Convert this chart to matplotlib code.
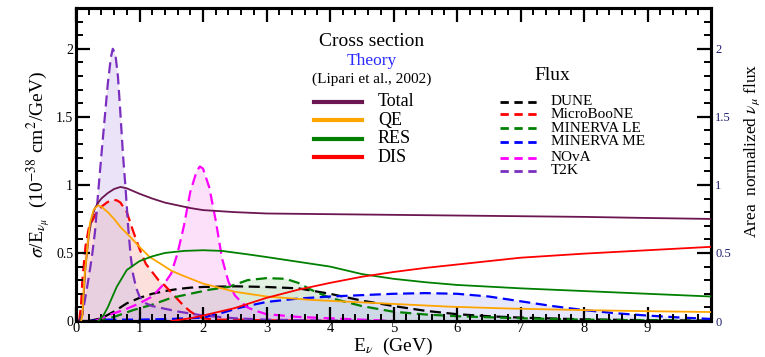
import matplotlib
matplotlib.use("Agg")
import matplotlib.pyplot as plt
from matplotlib.ticker import MultipleLocator
from matplotlib.lines import Line2D

plt.rcParams['font.family'] = ['Liberation Serif', 'DejaVu Serif']
plt.rcParams['mathtext.fontset'] = 'stix'

# ---- cross sections (Lipari et al., 2002), sigma/E in 1e-38 cm^2/GeV ----
e_total = [0.05, 0.1, 0.15, 0.2, 0.25, 0.3, 0.35, 0.4, 0.5, 0.6, 0.7, 0.8, 0.9, 1.0,
           1.2, 1.4, 1.6, 1.8, 2.0, 2.5, 3.0, 4.0, 5.0, 6.0, 7.0, 8.0, 9.0, 10.0]
v_total = [0.0, 0.04, 0.4, 0.62, 0.76, 0.83, 0.87, 0.9, 0.94, 0.97, 0.985, 0.975, 0.955, 0.935,
           0.9, 0.87, 0.85, 0.83, 0.815, 0.8, 0.79, 0.785, 0.78, 0.775, 0.77, 0.765, 0.757, 0.75]

e_qe = [0.08, 0.1, 0.13, 0.17, 0.22, 0.28, 0.35, 0.4, 0.5, 0.6, 0.7, 0.85, 1.0, 1.16, 1.3,
        1.5, 1.7, 2.0, 2.5, 3.0, 3.7, 4.8, 5.9, 6.8, 8.0, 9.0, 10.0]
v_qe = [0.0, 0.04, 0.3, 0.5, 0.72, 0.82, 0.85, 0.84, 0.8, 0.75, 0.69, 0.62, 0.545, 0.47, 0.43,
        0.37, 0.33, 0.275, 0.215, 0.18, 0.155, 0.13, 0.105, 0.092, 0.08, 0.072, 0.066]

e_res = [0.35, 0.43, 0.5, 0.64, 0.8, 1.0, 1.2, 1.4, 1.7, 2.0, 2.3, 2.7, 3.0, 3.5, 4.0, 4.5,
         5.0, 5.5, 6.0, 7.0, 8.0, 9.0, 10.0]
v_res = [0.0, 0.04, 0.1, 0.25, 0.375, 0.44, 0.475, 0.5, 0.515, 0.52, 0.515, 0.49, 0.47, 0.435,
         0.4, 0.345, 0.31, 0.285, 0.265, 0.24, 0.22, 0.2, 0.18]

e_dis = [1.5, 1.8, 2.0, 2.5, 3.0, 3.5, 4.0, 4.5, 5.0, 5.5, 6.0, 7.0, 8.0, 9.0, 10.0]
v_dis = [0.0, 0.02, 0.04, 0.095, 0.17, 0.23, 0.28, 0.325, 0.36, 0.39, 0.415, 0.465, 0.495, 0.52, 0.545]

# ---- area-normalized muon-neutrino fluxes ----
e_dune = [0.2, 0.4, 0.6, 0.8, 1.0, 1.2, 1.4, 1.6, 1.8, 2.0, 2.5, 3.0, 3.5, 4.0, 4.5, 5.0,
          5.5, 6.0, 6.5, 7.0, 8.0, 9.0, 10.0]
v_dune = [0.0, 0.02, 0.07, 0.13, 0.17, 0.2, 0.22, 0.235, 0.245, 0.25, 0.255, 0.25, 0.24, 0.2,
          0.15, 0.11, 0.075, 0.05, 0.035, 0.025, 0.012, 0.006, 0.003]

e_uboone = [0.05, 0.08, 0.1, 0.15, 0.2, 0.3, 0.4, 0.5, 0.6, 0.65, 0.7, 0.8, 0.9, 1.0, 1.1,
            1.2, 1.3, 1.4, 1.5, 1.6, 1.7, 1.8, 1.9, 2.0, 2.2, 2.5, 3.0, 4.0]
v_uboone = [0.0, 0.12, 0.3, 0.55, 0.68, 0.78, 0.84, 0.875, 0.89, 0.885, 0.87, 0.8, 0.66, 0.53,
            0.42, 0.36, 0.3, 0.26, 0.21, 0.16, 0.11, 0.07, 0.04, 0.02, 0.01, 0.01, 0.005, 0.0]

e_le = [0.3, 0.6, 0.9, 1.2, 1.5, 1.8, 2.1, 2.4, 2.7, 3.0, 3.3, 3.5, 3.7, 4.0, 4.5, 5.0, 5.5,
        6.0, 7.0, 8.0, 9.0, 10.0]
v_le = [0.0, 0.03, 0.08, 0.12, 0.17, 0.2, 0.23, 0.25, 0.3, 0.315, 0.31, 0.28, 0.23, 0.17,
        0.11, 0.068, 0.048, 0.035, 0.02, 0.01, 0.005, 0.0]

e_me = [0.2, 0.5, 1.0, 1.5, 2.0, 2.3, 2.6, 3.0, 3.5, 4.0, 4.5, 5.0, 5.5, 6.0, 6.5, 7.0, 7.5,
        8.0, 8.5, 9.0, 9.5, 10.0]
v_me = [0.0, 0.01, 0.01, 0.015, 0.025, 0.06, 0.1, 0.14, 0.165, 0.18, 0.19, 0.2, 0.205, 0.2,
        0.18, 0.145, 0.11, 0.08, 0.057, 0.04, 0.026, 0.015]

e_nova = [0.3, 0.5, 0.8, 1.0, 1.2, 1.4, 1.5, 1.6, 1.7, 1.8, 1.9, 1.95, 2.0, 2.1, 2.2, 2.3,
          2.4, 2.5, 2.6, 2.7, 2.8, 3.0, 3.5, 4.0, 5.0]
v_nova = [0.0, 0.04, 0.09, 0.13, 0.18, 0.28, 0.35, 0.5, 0.7, 0.95, 1.1, 1.135, 1.12, 0.98,
          0.74, 0.46, 0.29, 0.19, 0.14, 0.1, 0.08, 0.05, 0.03, 0.02, 0.0]

e_t2k = [0.05, 0.1, 0.15, 0.2, 0.25, 0.3, 0.35, 0.4, 0.45, 0.5, 0.55, 0.58, 0.62, 0.66, 0.7,
         0.74, 0.78, 0.82, 0.86, 0.9, 0.95, 1.0, 1.1, 1.2, 1.4, 1.6, 1.8, 2.0, 2.5, 3.0, 4.0, 5.0]
v_t2k = [0.0, 0.05, 0.18, 0.32, 0.47, 0.66, 0.95, 1.22, 1.48, 1.74, 1.94, 2.0, 1.96, 1.8, 1.52,
         1.22, 0.98, 0.7, 0.48, 0.34, 0.24, 0.18, 0.13, 0.11, 0.09, 0.07, 0.055, 0.04, 0.02, 0.01,
         0.003, 0.0]

xsec_series = [
    ("Total", e_total, v_total, "#6b1650"),
    ("QE", e_qe, v_qe, "#ffa500"),
    ("RES", e_res, v_res, "#008000"),
    ("DIS", e_dis, v_dis, "#ff0000"),
]
flux_series = [
    ("DUNE", e_dune, v_dune, "black", "#d8d8d8"),
    ("MicroBooNE", e_uboone, v_uboone, "#ff0000", "#f8a898"),
    ("MINERVA LE", e_le, v_le, "#008000", "#b0dcb0"),
    ("MINERVA ME", e_me, v_me, "#0000ff", "#b8b8f8"),
    ("NOvA", e_nova, v_nova, "#ff00ff", "#f8a8f0"),
    ("T2K", e_t2k, v_t2k, "#7a2fc0", "#c8b4ec"),
]

fig = plt.figure(figsize=(7.65, 3.57), dpi=100)
ax = fig.add_axes([76 / 765, 1 - 321 / 357, 635 / 765, 313 / 357])
ax2 = ax.twinx()

# fluxes on the right axis: shaded areas with dashed outlines
for name, e, v, col, fcol in flux_series:
    ax2.fill_between(e, 0, v, facecolor=fcol, alpha=0.35, linewidth=0, zorder=1)
for name, e, v, col, fcol in flux_series:
    ax2.plot(e, v, color=col, lw=1.6, ls=(0, (5, 2.5)), zorder=3)

# cross sections on the left axis, drawn above the fluxes
ax.set_zorder(ax2.get_zorder() + 1)
ax.patch.set_visible(False)
for name, e, v, col in xsec_series:
    ax.plot(e, v, color=col, lw=1.3, zorder=4)

ymax = 2.3
for a in (ax, ax2):
    a.set_xlim(0, 10)
    a.set_ylim(0, ymax)
    a.yaxis.set_major_locator(MultipleLocator(0.5))
    a.yaxis.set_minor_locator(MultipleLocator(0.1))
    for s in a.spines.values():
        s.set_linewidth(2.2)

ax.set_xticks(range(0, 10))
ax.xaxis.set_minor_locator(MultipleLocator(0.2))
ax.set_yticks([0, 0.5, 1, 1.5, 2])
ax.set_yticklabels(["0", "0.5", "1", "1.5", "2"])
ax2.set_yticks([0, 0.5, 1, 1.5, 2])
ax2.set_yticklabels(["0", "0.5", "1", "1.5", "2"])

ax.tick_params(which="major", direction="in", length=10, width=1.6, top=True, right=False,
               labelsize=10, pad=2)
ax.tick_params(which="minor", direction="in", length=5, width=1.4, top=True, right=False)
ax.tick_params(axis="x", labelsize=10.5, pad=1)
ax2.tick_params(which="major", direction="in", length=10, width=1.6, labelsize=9,
                labelcolor="#1c1c6c", pad=3)
ax2.tick_params(which="minor", direction="in", length=5, width=1.4)

ax.set_xlabel(r"E$_\nu$  (GeV)", fontsize=14, labelpad=0)
ax.set_ylabel(r"$\sigma$/E$_{\nu_\mu}$  (10$^{-38}$ cm$^2$/GeV)", fontsize=14, labelpad=2)
ax2.set_ylabel(r"Area  normalized $\nu_\mu$ flux", fontsize=12.5, va="center", ha="center")
ax2.yaxis.set_label_coords((752 - 76) / 635, (321 - 151) / 313)


def axfrac(px, py):
    return ((px - 76) / 635, (321 - py) / 313)


# cross-section key
ax.text(*axfrac(372, 41), "Cross section", transform=ax.transAxes, ha="center", va="center",
        fontsize=14)
ax.text(*axfrac(372, 61), "Theory", transform=ax.transAxes, ha="center", va="center",
        fontsize=12.5, color="#2a2aff")
ax.text(*axfrac(372, 79), "(Lipari et al., 2002)", transform=ax.transAxes, ha="center",
        va="center", fontsize=11)
xsec_rows = [101.5, 120, 138.5, 157]
for (name, e, v, col), py in zip(xsec_series, xsec_rows):
    x0, y0 = axfrac(314, py)
    x1, _ = axfrac(362, py)
    ax.add_line(Line2D([x0, x1], [y0, y0], transform=ax.transAxes, color=col, lw=3))
    ax.text(*axfrac(378, py), name, transform=ax.transAxes, ha="left", va="center",
            fontsize=13)

# flux key
ax.text(*axfrac(552, 75), "Flux", transform=ax.transAxes, ha="center", va="center",
        fontsize=14)
flux_rows = [101.5, 114, 128.5, 141.5, 157.5, 170.5]
for (name, e, v, col, fcol), py in zip(flux_series, flux_rows):
    x0, y0 = axfrac(500, py)
    x1, _ = axfrac(540, py)
    ax.add_line(Line2D([x0, x1], [y0, y0], transform=ax.transAxes, color=col, lw=2,
                       ls=(0, (3, 2))))
    ax.text(*axfrac(551, py), name, transform=ax.transAxes, ha="left", va="center",
            fontsize=11)

fig.savefig("out.png", dpi=100)
